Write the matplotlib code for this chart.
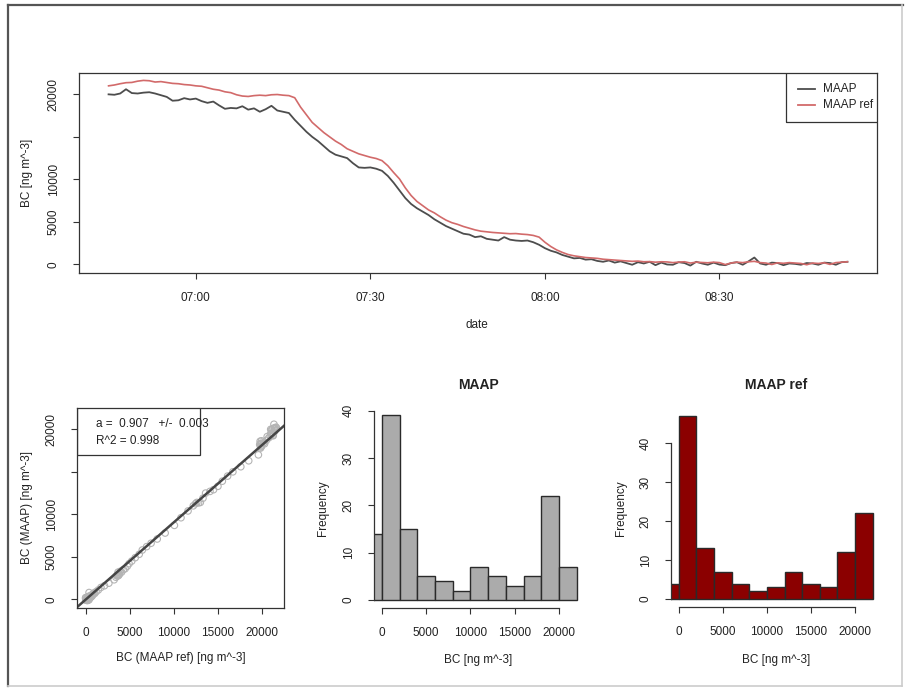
import matplotlib
matplotlib.use('Agg')
import matplotlib.pyplot as plt
import matplotlib.dates as mdates
from matplotlib.lines import Line2D
from matplotlib.patches import Rectangle
import pandas as pd

plt.rcParams['font.family'] = ['Liberation Sans', 'DejaVu Sans']

W, H = 906, 689

# --- 1-minute BC values, 06:45 .. 08:52 ---
start_time = '2014-01-01 06:45'
maap = [
    20000, 19950, 20100, 20600, 20150, 20100, 20200, 20250, 20100, 19900,
    19700, 19250, 19300, 19550, 19400, 19500, 19200, 19000, 19150, 18700,
    18300, 18400, 18350, 18600, 18200, 18350, 17950, 18250, 18650, 18100,
    17950, 17800, 17000, 16300, 15600, 15000, 14500, 13900, 13300, 12900,
    12700, 12500, 11900, 11400, 11350, 11400, 11250, 11000, 10400, 9600,
    8700, 7800, 7100, 6600, 6200, 5800, 5300, 4900, 4500, 4200,
    3900, 3600, 3500, 3200, 3300, 3000, 2900, 2800, 3200, 2900,
    2800, 2750, 2800, 2600, 2300, 1900, 1600, 1400, 1100, 900,
    700, 750, 550, 600, 400, 300, 450, 200, 350, 150,
    -50, 250, 100, 300, -100, 200, -20, -50, 250, 150,
    -150, 300, 100, -50, 200, -30, -100, 150, 250, -50,
    350, 800, 100, -50, 200, 150, -100, 100, 50, -50,
    150, 100, -50, 200, 150, -50, 250, 300,
]
maap_ref = [
    21000, 21100, 21250, 21370, 21400, 21550, 21640, 21600, 21450, 21500,
    21400, 21290, 21250, 21150, 21100, 21000, 20950, 20780, 20600, 20500,
    20300, 20200, 19950, 19800, 19750, 19850, 19900, 19850, 19950, 19980,
    19900, 19850, 19600, 18500, 17600, 16700, 16100, 15500, 15000, 14500,
    14100, 13600, 13300, 13000, 12800, 12600, 12450, 12200, 11600, 10800,
    10050, 9000, 8100, 7400, 6900, 6400, 6050, 5600, 5200, 4900,
    4700, 4450, 4250, 4050, 3900, 3820, 3750, 3700, 3650, 3600,
    3620, 3550, 3500, 3400, 3200, 2600, 2100, 1700, 1400, 1150,
    1000, 900, 800, 750, 700, 600, 550, 500, 450, 400,
    350, 380, 300, 320, 250, 300, 280, 200, 260, 300,
    150, 250, 220, 180, 250, 200, -30, 150, 250, 200,
    300, 350, 200, 150, -20, 180, 120, 200, 150, 100,
    -50, 150, 100, 180, -10, 200, 250, 300,
]

# --- histogram counts (bins of 2000 from -2000 to 22000) ---
hist_edges = list(range(-2000, 22001, 2000))
maap_counts = [14, 39, 15, 5, 4, 2, 7, 5, 3, 5, 22, 7]
maap_ref_counts = [4, 47, 13, 7, 4, 2, 3, 7, 4, 3, 12, 22]

# --- regression through origin ---
fit_slope = 0.907
fit_err = 0.003
fit_r2 = 0.998

bc_ticks = [0, 5000, 10000, 15000, 20000]
bc_labels = ['0', '5000', '10000', '', '20000']
unit = 'BC [ng m^-3]'

TXT = '#222222'
AX = '#333333'
FS = 8.5

fig = plt.figure(figsize=(W / 100, H / 100), dpi=100)


def ax_at(x0, y0, x1, y1):
    return fig.add_axes([x0 / W, 1 - y1 / H, (x1 - x0) / W, (y1 - y0) / H])


def ftext(x, y, s, **kw):
    kw.setdefault('fontsize', FS)
    kw.setdefault('color', TXT)
    fig.text(x / W, 1 - y / H, s, ha='center', va='center', **kw)


def r_style(ax):
    for sp in ax.spines.values():
        sp.set_color(AX)
        sp.set_linewidth(0.9)
    ax.tick_params(direction='out', length=4, width=0.8, color=AX,
                   labelsize=FS, labelcolor=TXT, pad=10)
    ax.tick_params(axis='y', labelrotation=90)
    for lab in ax.get_yticklabels():
        lab.set_va('center')


# --- time series ---
ax1 = ax_at(79, 73, 877, 273)
times = pd.date_range(start_time, periods=len(maap), freq='min')
ax1.plot(times, maap, color='#4d4d4d', lw=1.3)
ax1.plot(times, maap_ref, color='#d26a6a', lw=1.2)
ax1.margins(x=0.04, y=0.04)
ax1.xaxis.set_major_locator(mdates.MinuteLocator(byminute=[0, 30]))
ax1.xaxis.set_major_formatter(mdates.DateFormatter('%H:%M'))
ax1.set_yticks(bc_ticks)
ax1.set_yticklabels(bc_labels)
r_style(ax1)

# legend, clipped at the plot edge like in R
ax1.add_patch(Rectangle((0.886, 0.755), 0.3, 0.3, transform=ax1.transAxes,
                        fill=False, ec=AX, lw=0.9, clip_on=True))
for yy, col, name in [(0.92, '#4d4d4d', 'MAAP'), (0.84, '#d26a6a', 'MAAP ref')]:
    ax1.plot([0.901, 0.922], [yy, yy], transform=ax1.transAxes, color=col, lw=1.3)
    ax1.text(0.932, yy, name, transform=ax1.transAxes, va='center',
             fontsize=FS, color=TXT, clip_on=True)

ftext(27, 173, unit, rotation=90)
ftext(477, 325, 'date')

# --- scatter ---
ax2 = ax_at(77, 408, 284, 608)
ax2.scatter(maap_ref, maap, s=22, facecolors='none', edgecolors='#b4b4b4', lw=0.8)
ax2.axline((0, 0), slope=fit_slope, color='#454545', lw=1.8)
lo = min(min(maap), min(maap_ref))
hi = max(max(maap), max(maap_ref))
pad = 0.04 * (hi - lo)
ax2.set_xlim(lo - pad, hi + pad)
ax2.set_ylim(lo - pad, hi + pad)
ax2.set_xticks(bc_ticks)
ax2.set_yticks(bc_ticks)
ax2.set_yticklabels(bc_labels)
r_style(ax2)
ax2.add_patch(Rectangle((0, 0.765), 0.594, 0.3, transform=ax2.transAxes,
                        fill=False, ec=AX, lw=0.9, clip_on=True))
ax2.text(0.092, 0.92, f'a =  {fit_slope:.3f}   +/-  {fit_err:.3f}', transform=ax2.transAxes,
         va='center', fontsize=FS, color=TXT)
ax2.text(0.092, 0.836, f'R^2 = {fit_r2:.3f}', transform=ax2.transAxes,
         va='center', fontsize=FS, color=TXT)
ftext(27, 507, 'BC (MAAP) [ng m^-3]', rotation=90)
ftext(181, 658, 'BC (MAAP ref) [ng m^-3]')


# --- histograms ---
def hist_panel(ax, counts, color, title, xc):
    ax.bar(hist_edges[:-1], counts, width=2000, align='edge',
           color=color, edgecolor='#2a2a2a', lw=1.0)
    top = max(counts)
    ax.set_xlim(-880, 22880)
    ax.set_ylim(-0.04 * top, 1.04 * top)
    ax.set_xticks(bc_ticks)
    ax.set_yticks([0, 10, 20, 30, 40])
    r_style(ax)
    ax.spines['top'].set_visible(False)
    ax.spines['right'].set_visible(False)
    ax.spines['left'].set_bounds(0, 40)
    ax.spines['bottom'].set_bounds(0, 20000)
    ftext(xc, 385, title, fontsize=10, fontweight='bold')
    ftext(xc, 660, unit)
    ftext(xc - 155, 508, 'Frequency', rotation=90)


ax3 = ax_at(374, 408, 584.5, 607.5)
hist_panel(ax3, maap_counts, '#ababab', 'MAAP', 478.5)
ax4 = ax_at(671, 408.5, 880.5, 606.5)
hist_panel(ax4, maap_ref_counts, '#8b0000', 'MAAP ref', 776)

# --- outer frame of the screenshot ---
fig.add_artist(Line2D([8 / W, 903 / W], [1 - 5 / H, 1 - 5 / H], color='#555555', lw=1.6))
fig.add_artist(Line2D([8 / W, 8 / W], [1 - 5 / H, 1 - 686 / H], color='#555555', lw=1.6))
fig.add_artist(Line2D([902 / W, 902 / W], [1 - 5 / H, 1 - 686 / H], color='#cccccc', lw=1.2))
fig.add_artist(Line2D([8 / W, 902 / W], [1 - 686 / H, 1 - 686 / H], color='#cccccc', lw=1.2))

fig.savefig('out.png', dpi=100)
